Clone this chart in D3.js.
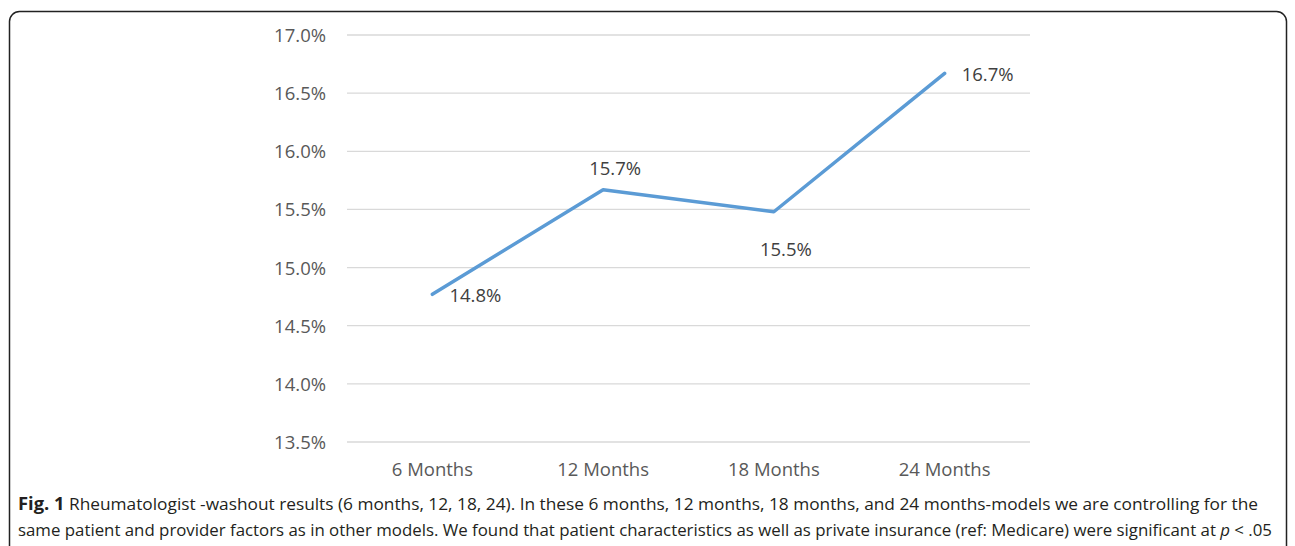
<!DOCTYPE html>
<html><head><meta charset="utf-8">
<script src="https://cdn.jsdelivr.net/npm/d3@7"></script>
<style>html,body{margin:0;padding:0;background:#fff;}svg{display:block;}</style>
</head><body>
<svg id="c" width="1295" height="546"></svg>
<script>
const categories = ["6 Months", "12 Months", "18 Months", "24 Months"];
const values = [14.77, 15.67, 15.48, 16.67];
const valueLabels = ["14.8%", "15.7%", "15.5%", "16.7%"];
const labelPlacement = ["right", "above", "below", "right"];
const yTicks = [13.5, 14.0, 14.5, 15.0, 15.5, 16.0, 16.5, 17.0];
const captionLine1 = "Rheumatologist -washout results (6 months, 12, 18, 24). In these 6 months, 12 months, 18 months, and 24 months-models we are controlling for the";
const captionLine2a = "same patient and provider factors as in other models. We found that patient characteristics as well as private insurance (ref: Medicare) were significant at ";

const svg = d3.select("#c");
const font = "'Open Sans', sans-serif";
const textColor = "#595959";
const fs = 18.5;

// frame
svg.append("rect").attr("x", 9.5).attr("y", 11.5).attr("width", 1277).attr("height", 560)
  .attr("rx", 10).attr("fill", "#fff").attr("stroke", "#222").attr("stroke-width", 1.5);

const plotL = 347, plotR = 1030, plotT = 35, plotB = 442;
const x = d3.scaleBand().domain(categories).range([plotL, plotR]);
const y = d3.scaleLinear().domain([13.5, 17.0]).range([plotB, plotT]);

// gridlines
svg.append("g").selectAll("line").data(yTicks).join("line")
  .attr("x1", plotL).attr("x2", plotR)
  .attr("y1", d => y(d)).attr("y2", d => y(d))
  .attr("stroke", "#d9d9d9").attr("stroke-width", 1.3);

// y axis labels
const yAxis = d3.axisLeft(y).tickValues(yTicks).tickSize(0).tickPadding(0)
  .tickFormat(d => d3.format(".1f")(d) + "%");
const gy = svg.append("g").attr("transform", `translate(326,0)`).call(yAxis);
gy.select(".domain").remove();
gy.selectAll("text").attr("font-family", font).attr("font-size", fs).attr("fill", textColor).attr("dy", "0.35em");

// x axis labels
const xAxis = d3.axisBottom(x).tickSize(0).tickPadding(0);
const gx = svg.append("g").attr("transform", `translate(0,470)`).call(xAxis);
gx.select(".domain").remove();
gx.selectAll("text").attr("font-family", font).attr("font-size", fs).attr("fill", textColor).attr("y", 0).attr("dy", "0.35em");

// line
const cx = d => x(d) + x.bandwidth() / 2;
const line = d3.line().x((d, i) => cx(categories[i])).y(d => y(d));
svg.append("path").datum(values).attr("d", line)
  .attr("fill", "none").attr("stroke", "#5B9BD5").attr("stroke-width", 3.5)
  .attr("stroke-linejoin", "round").attr("stroke-linecap", "round");

// data labels
svg.append("g").selectAll("text").data(values).join("text")
  .attr("font-family", font).attr("font-size", fs).attr("fill", "#404040")
  .attr("x", (d, i) => {
    const px = cx(categories[i]);
    return labelPlacement[i] === "right" ? px + 17 : px + 12;
  })
  .attr("y", (d, i) => {
    const py = y(d);
    if (labelPlacement[i] === "above") return py - 21;
    if (labelPlacement[i] === "below") return py + 38;
    return py + 1;
  })
  .attr("dy", "0.35em")
  .attr("text-anchor", (d, i) => labelPlacement[i] === "right" ? "start" : "middle")
  .text((d, i) => valueLabels[i]);

// caption
const cap = svg.append("g").attr("font-family", font).attr("font-size", 16).attr("fill", "#231f20");
const t1 = cap.append("text").attr("x", 18).attr("y", 510)
  .attr("textLength", 1240).attr("lengthAdjust", "spacingAndGlyphs");
t1.append("tspan").attr("font-weight", "bold").attr("font-size", 17).text("Fig. 1");
t1.append("tspan").text(" " + captionLine1);
const t2 = cap.append("text").attr("x", 18).attr("y", 536)
  .attr("textLength", 1254).attr("lengthAdjust", "spacingAndGlyphs");
t2.append("tspan").text(captionLine2a);
t2.append("tspan").attr("font-style", "italic").text("p");
t2.append("tspan").text(" < .05");
</script>
</body></html>
